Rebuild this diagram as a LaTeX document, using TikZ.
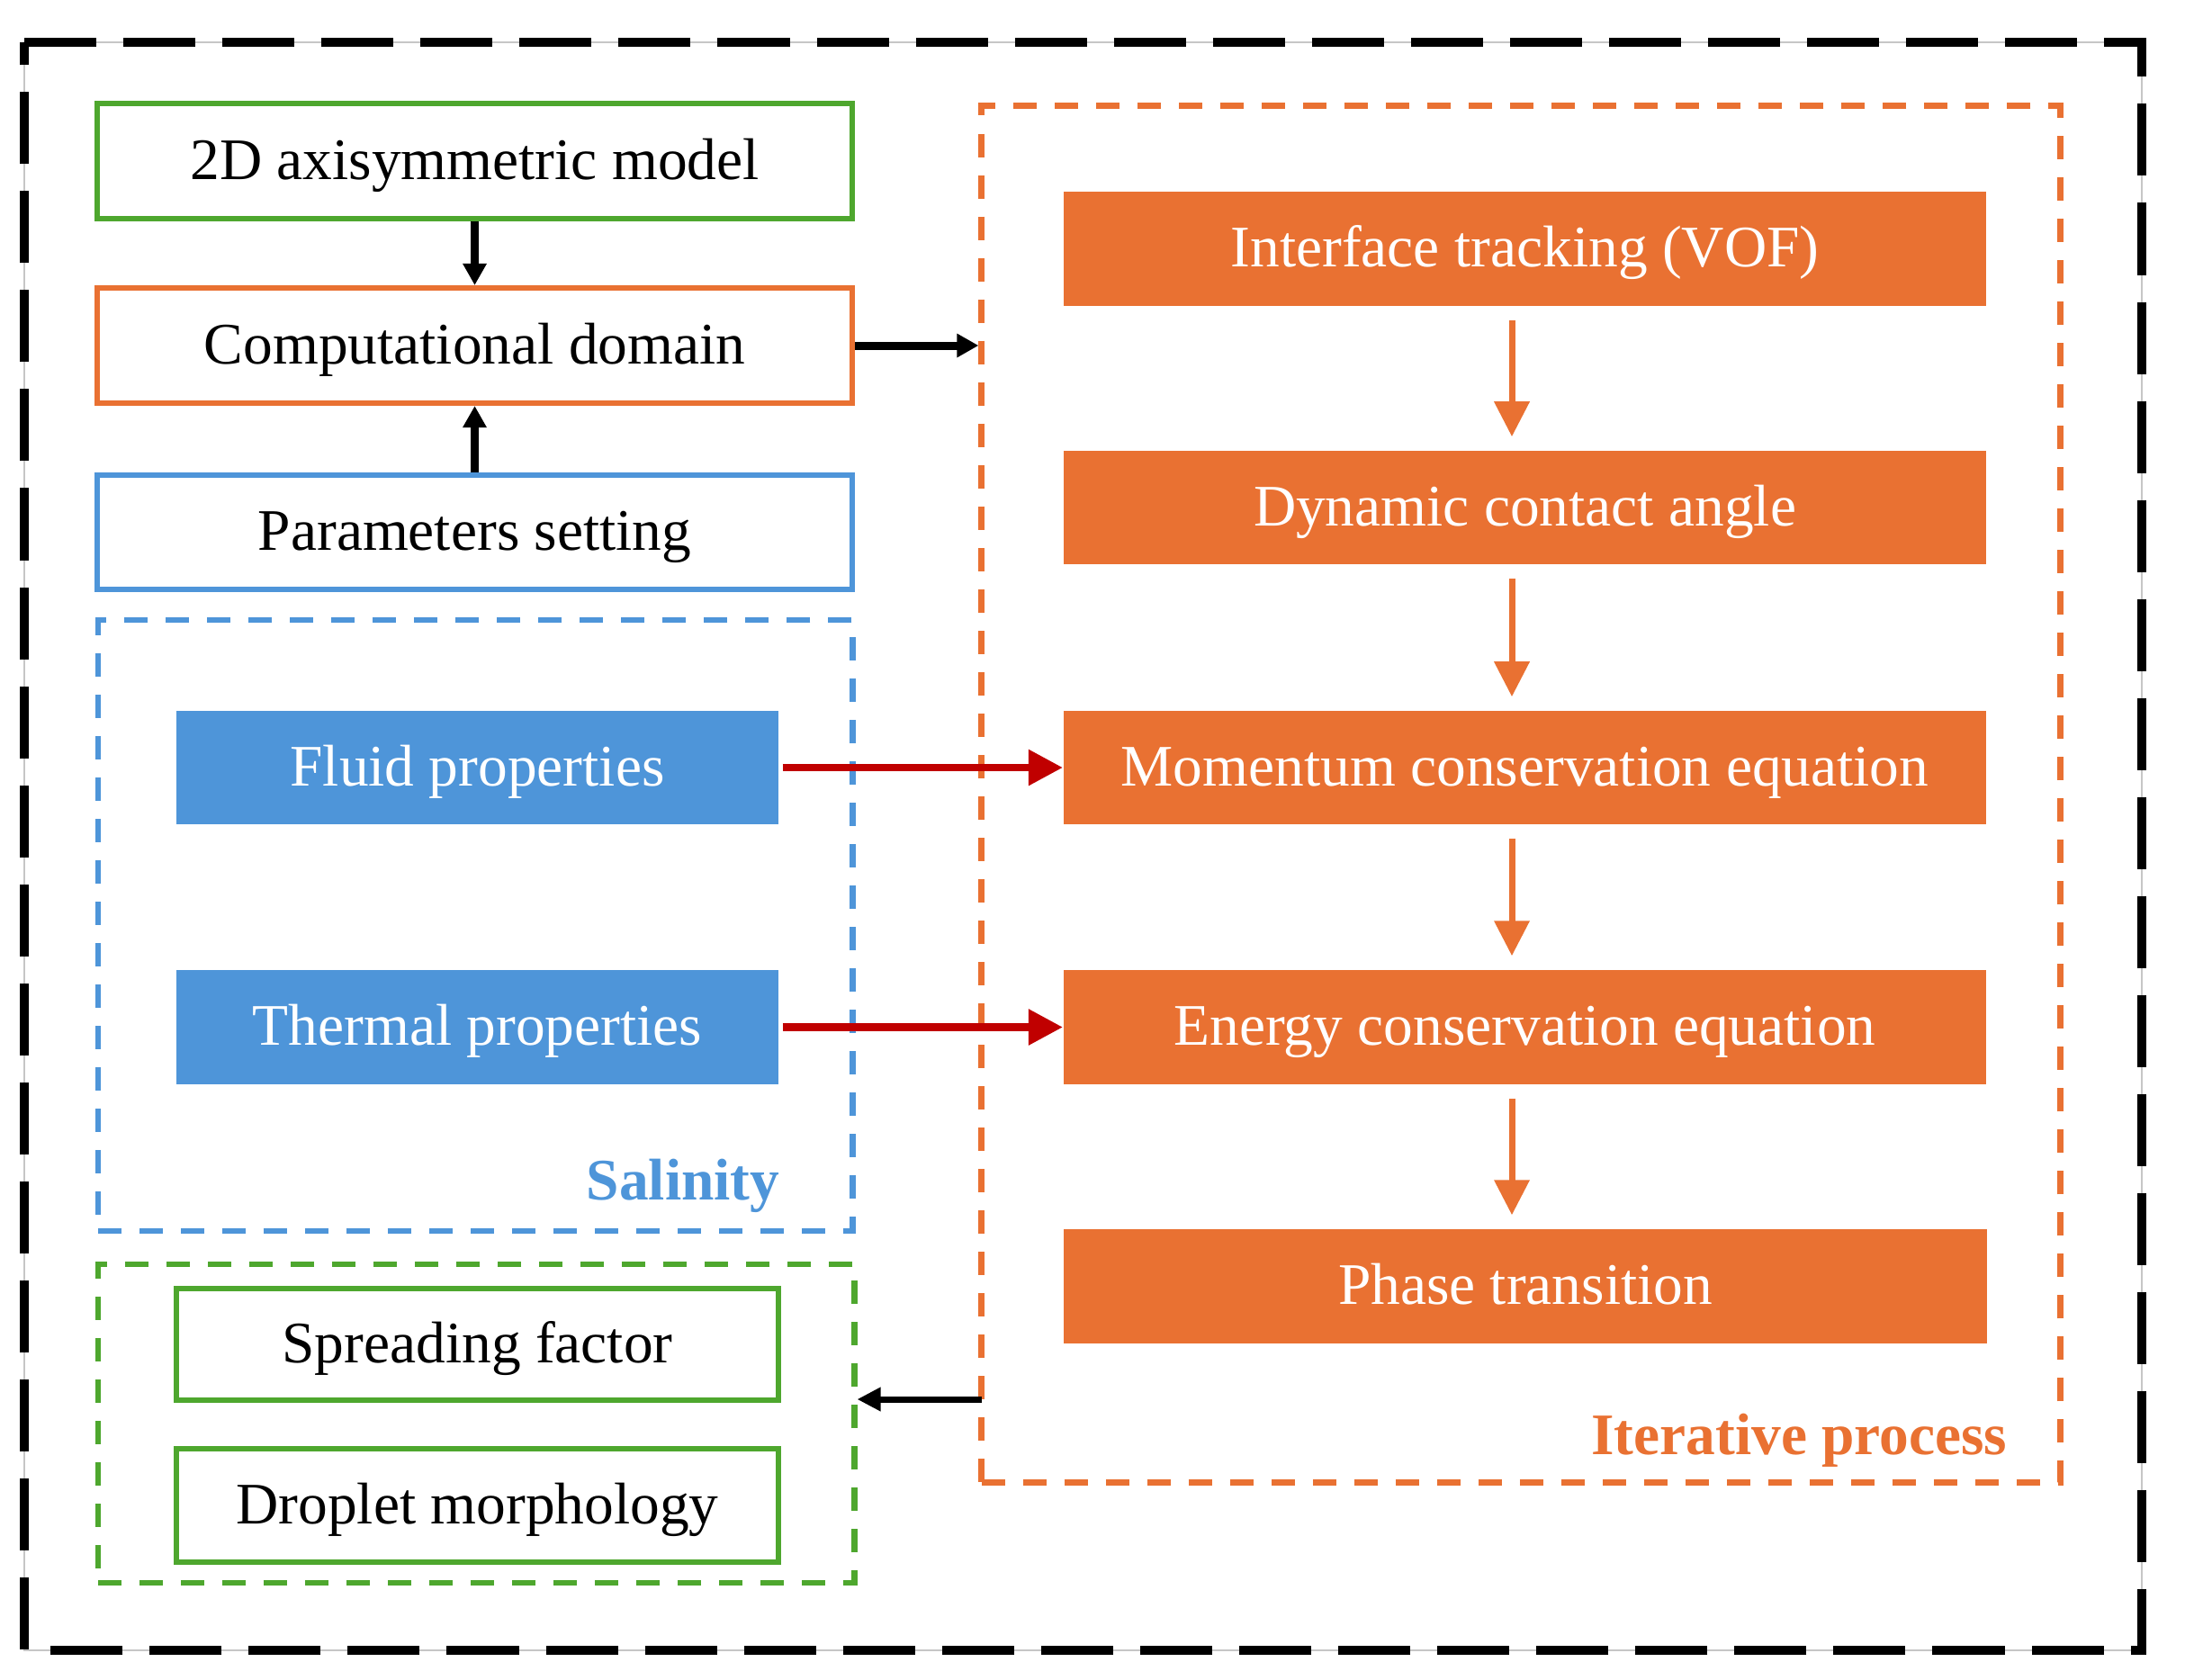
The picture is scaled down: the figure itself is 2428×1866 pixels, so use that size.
\documentclass[tikz,border=0pt]{standalone}
\usepackage{fontspec}
\setmainfont{Liberation Serif}
\usetikzlibrary{arrows.meta}
\definecolor{oran}{HTML}{E97132}
\definecolor{blu}{HTML}{4E95D9}
\definecolor{grn}{HTML}{4EA72E}
\definecolor{rd}{HTML}{C00000}
\tikzset{
 txt/.style={font=\fontsize{18.6pt}{22pt}\selectfont, text height=14pt, text depth=2.6pt},
 outline/.style={draw=#1, line width=0.06cm, fill=white, text=black, txt, inner sep=0pt},
 filled/.style={fill=#1, text=white, txt, inner sep=0pt},
 frame/.style={draw=#1, line width=0.065cm, dash pattern=on 0.26cm off 0.2cm, inner sep=0pt},
 bk/.style={line width=0.09cm, -{Triangle[width=0.25cm,length=0.24cm]}},
 bkthin/.style={line width=0.07cm, -{Triangle[width=0.25cm,length=0.26cm]}},
 oarr/.style={draw=oran, line width=0.07cm, -{Triangle[width=0.38cm,length=0.39cm]}, shorten <=0.15cm, shorten >=0.15cm},
 rarr/.style={draw=rd, line width=0.085cm, -{Triangle[width=0.38cm,length=0.38cm]}, shorten <=0.04cm},
 lbl/.style={anchor=base east, inner sep=0pt, font=\fontsize{18.6pt}{22pt}\selectfont\bfseries}
}
\begin{document}
\begin{tikzpicture}[x=0.01cm,y=-0.01cm]
\useasboundingbox (0,0) rectangle (2428,1866);
% outer frame
\draw[gray!45, line width=0.4pt] (27,47) rectangle (2380,1834);
\draw[line width=0.1cm, dash pattern=on 0.8cm off 0.3cm] (27,47) -- (2380,47) -- (2380,1834) -- (27,1834) -- cycle;
% dashed frames
\node[frame=blu, minimum width=8.38cm, minimum height=6.79cm] (sal) at (528,1028.5) {};
\node[frame=grn, minimum width=8.40cm, minimum height=3.54cm] (res) at (529,1582) {};
\node[frame=oran, minimum width=11.98cm, minimum height=15.29cm] (iter) at (1690,882.5) {};
% left column
\node[outline=grn, minimum width=8.39cm, minimum height=1.28cm] (m2d) at (527.5,179) {2D axisymmetric model};
\node[outline=oran, minimum width=8.39cm, minimum height=1.28cm] (comp) at (527.5,384) {Computational domain};
\node[outline=blu, minimum width=8.39cm, minimum height=1.27cm] (param) at (527.5,591.5) {Parameters setting};
\node[filled=blu, minimum width=6.69cm, minimum height=1.26cm] (fluid) at (530.5,853) {Fluid properties};
\node[filled=blu, minimum width=6.69cm, minimum height=1.27cm] (therm) at (530.5,1141.5) {Thermal properties};
\node[lbl, text=blu] (saltxt) at (867,1333) {Salinity};
\node[outline=grn, minimum width=6.69cm, minimum height=1.24cm] (spread) at (530.5,1494) {Spreading factor};
\node[outline=grn, minimum width=6.69cm, minimum height=1.26cm] (drop) at (530.5,1673) {Droplet morphology};
% right column
\node[filled=oran, minimum width=10.25cm, minimum height=1.27cm] (itf) at (1694.5,276.5) {Interface tracking (VOF)};
\node[filled=oran, minimum width=10.25cm, minimum height=1.26cm] (dyn) at (1694.5,564) {Dynamic contact angle};
\node[filled=oran, minimum width=10.25cm, minimum height=1.26cm] (mom) at (1694.5,853) {Momentum conservation equation};
\node[filled=oran, minimum width=10.25cm, minimum height=1.27cm] (ene) at (1694.5,1141.5) {Energy conservation equation};
\node[filled=oran, minimum width=10.26cm, minimum height=1.27cm] (pha) at (1695,1429.5) {Phase transition};
\node[lbl, text=oran] (ittxt) at (2231,1616) {Iterative process};
% arrows
\draw[bk] (m2d.south) -- (comp.north);
\draw[bk] (param.north) -- (comp.south);
\draw[bk] (comp.east) -- (comp.east -| iter.west);
\coordinate (ax) at (1680,0);
\draw[oarr] (itf.south -| ax) -- (dyn.north -| ax);
\draw[oarr] (dyn.south -| ax) -- (mom.north -| ax);
\draw[oarr] (mom.south -| ax) -- (ene.north -| ax);
\draw[oarr] (ene.south -| ax) -- (pha.north -| ax);
\draw[rarr] (fluid.east) -- (mom.west);
\draw[rarr] (therm.east) -- (ene.west);
\coordinate (b1) at (1091,1555);
\draw[bkthin] (b1) -- (b1 -| res.east);
\end{tikzpicture}
\end{document}
